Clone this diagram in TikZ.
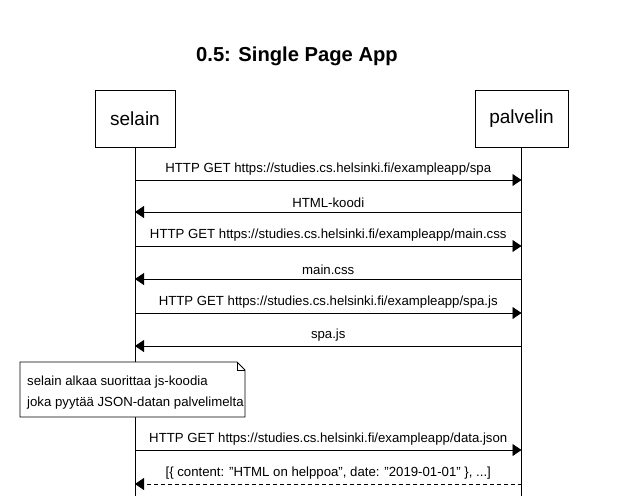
\documentclass[tikz,border=0pt]{standalone}
\usepackage{fontspec}
\setmainfont{Liberation Sans}
\usetikzlibrary{arrows.meta}
\begin{document}
\begin{tikzpicture}[x=1pt,y=-1pt,
  actor/.style={draw,line width=0.8pt,minimum width=#1,minimum height=57pt,inner sep=0pt,font=\fontsize{19}{22}\selectfont},
  msg/.style={line width=0.8pt,-{Triangle[length=9pt,width=12pt]}},
  lbl/.style={font=\fontsize{13.2}{15}\selectfont,inner sep=0pt,anchor=base},
  life/.style={line width=0.8pt}]
\useasboundingbox (0,0) rectangle (643,496);
\node[font=\bfseries\fontsize{20.2}{24}\selectfont] (title) at (297,56) {0.5: Single Page App};
\node[actor=80pt] (selain) at (135,118.5) {selain};
\node[actor=93pt] (palvelin) at (521.5,118.5) {palvelin};
\coordinate (sbot) at (135,496);
\coordinate (pbot) at (521.5,496);
\draw[life] (selain.south) -- (sbot);
\draw[life] (palvelin.south) -- (pbot);
% message coordinates
\foreach \n/\y in {a/180,b/212,c/246,d/279,e/313,f/346,g/450,h/484}{
  \coordinate (s\n) at (135,\y);
  \coordinate (p\n) at (521.5,\y);
}
\draw[msg] (sa) -- node[lbl,above=0pt,yshift=4pt] (la) {HTTP GET https://studies.cs.helsinki.fi/exampleapp/spa} (pa);
\draw[msg] (pb) -- node[lbl,above=0pt,yshift=4pt] (lb) {HTML-koodi} (sb);
\draw[msg] (sc) -- node[lbl,above=0pt,yshift=4pt] (lc) {HTTP GET https://studies.cs.helsinki.fi/exampleapp/main.css} (pc);
\draw[msg] (pd) -- node[lbl,above=0pt,yshift=4pt] (ld) {main.css} (sd);
\draw[msg] (se) -- node[lbl,above=0pt,yshift=4pt] (le) {HTTP GET https://studies.cs.helsinki.fi/exampleapp/spa.js} (pe);
\draw[msg] (pf) -- node[lbl,above=0pt,yshift=4pt] (lf) {spa.js} (sf);
\draw[msg] (sg) -- node[lbl,above=0pt,yshift=4pt] (lg) {HTTP GET https://studies.cs.helsinki.fi/exampleapp/data.json} (pg);
\draw[msg,dash pattern=on 4pt off 3pt] (ph) -- node[lbl,above=0pt,yshift=4pt] (lh) {[\{ content: \symbol{"22}HTML on helppoa\symbol{"22}, date: \symbol{"22}2019-01-01\symbol{"22} \}, ...]} (sh);
% note
\draw[line width=0.8pt,fill=white] (20,362) -- (237,362) -- (245,370) -- (245,417) -- (20,417) -- cycle;
\draw[line width=0.8pt] (237,362) -- (237,370) -- (245,370);
\node[font=\fontsize{13.2}{21}\selectfont,align=left,anchor=north west,inner sep=0pt] (note) at (27,376) {selain alkaa suorittaa js-koodia\\joka pyytää JSON-datan palvelimelta};
\end{tikzpicture}
\end{document}
